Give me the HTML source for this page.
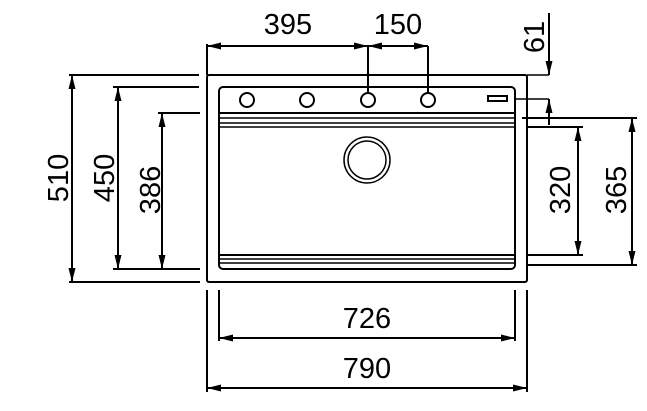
<!DOCTYPE html>
<html><head><meta charset="utf-8"><style>html,body{margin:0;padding:0;background:#fff}svg{display:block}</style></head>
<body>
<svg width="647" height="411" viewBox="0 0 647 411" xmlns="http://www.w3.org/2000/svg" font-family="Liberation Sans, sans-serif" font-size="29" fill="#000">
<defs>
<marker id="a" viewBox="0 0 14 7" refX="14" refY="3.5" markerWidth="14" markerHeight="7" markerUnits="userSpaceOnUse" orient="auto-start-reverse"><path d="M0,0 L14,3.5 L0,7 z"/></marker>
</defs>
<g stroke="#000" fill="none" stroke-width="2">
<rect x="207" y="75" width="320" height="207" rx="2"/>
<rect x="219" y="87" width="296" height="182" rx="4"/>
<line x1="219" y1="113" x2="515" y2="113"/>
<line x1="219" y1="118" x2="515" y2="118" stroke-width="1.5"/>
<line x1="219" y1="123" x2="515" y2="123" stroke-width="1.5"/>
<line x1="219" y1="127" x2="515" y2="127" stroke-width="1.5"/>
<line x1="219" y1="255" x2="515" y2="255"/>
<line x1="219" y1="259" x2="515" y2="259" stroke-width="1.5"/>
<line x1="219" y1="263" x2="515" y2="263" stroke-width="1.5"/>
<circle cx="247" cy="100" r="7"/><circle cx="307" cy="100" r="7"/><circle cx="368" cy="100" r="7"/><circle cx="428" cy="100" r="7"/>
<rect x="488" y="96" width="19" height="5"/>
<circle cx="367" cy="160" r="23" stroke-width="1.5"/><circle cx="367" cy="160" r="19" stroke-width="1.5"/>
<line x1="207" y1="44" x2="207" y2="75"/>
<line x1="368" y1="46" x2="368" y2="93"/>
<line x1="428" y1="46" x2="428" y2="93"/>
<line x1="207" y1="46" x2="368" y2="46" marker-start="url(#a)" marker-end="url(#a)"/>
<line x1="368" y1="46" x2="428" y2="46" marker-start="url(#a)" marker-end="url(#a)"/>
<line x1="69" y1="75" x2="199" y2="75"/>
<line x1="113" y1="87" x2="199" y2="87"/>
<line x1="158" y1="113" x2="200" y2="113"/>
<line x1="113" y1="269" x2="200" y2="269"/>
<line x1="69" y1="282" x2="200" y2="282"/>
<line x1="72" y1="75" x2="72" y2="282" marker-start="url(#a)" marker-end="url(#a)"/>
<line x1="118" y1="87" x2="118" y2="269" marker-start="url(#a)" marker-end="url(#a)"/>
<line x1="162" y1="113" x2="162" y2="269" marker-start="url(#a)" marker-end="url(#a)"/>
<line x1="527" y1="75" x2="549" y2="75" stroke-width="1.5"/>
<line x1="515" y1="99" x2="549" y2="99" stroke-width="1.5"/>
<line x1="549" y1="13" x2="549" y2="75" marker-end="url(#a)"/>
<line x1="549" y1="125" x2="549" y2="99" marker-end="url(#a)"/>
<line x1="522" y1="118" x2="637" y2="118"/>
<line x1="527" y1="127" x2="583" y2="127"/>
<line x1="527" y1="255" x2="583" y2="255"/>
<line x1="527" y1="265" x2="637" y2="265"/>
<line x1="578" y1="127" x2="578" y2="255" marker-start="url(#a)" marker-end="url(#a)"/>
<line x1="632" y1="118" x2="632" y2="265" marker-start="url(#a)" marker-end="url(#a)"/>
<line x1="207" y1="290" x2="207" y2="392"/>
<line x1="527" y1="290" x2="527" y2="392"/>
<line x1="219" y1="290" x2="219" y2="341"/>
<line x1="515" y1="290" x2="515" y2="341"/>
<line x1="219" y1="338" x2="515" y2="338" marker-start="url(#a)" marker-end="url(#a)"/>
<line x1="207" y1="388" x2="527" y2="388" marker-start="url(#a)" marker-end="url(#a)"/>
</g>
<g text-anchor="middle">
<text x="288" y="34">395</text>
<text x="398" y="34">150</text>
<text x="367" y="328">726</text>
<text x="367" y="378">790</text>
<text transform="translate(68,178) rotate(-90)">510</text>
<text transform="translate(114,178) rotate(-90)">450</text>
<text transform="translate(160,190) rotate(-90)">386</text>
<text transform="translate(570,190) rotate(-90)">320</text>
<text transform="translate(626,190) rotate(-90)">365</text>
<text transform="translate(544,37) rotate(-90)">61</text>
</g>
</svg>
</body></html>
